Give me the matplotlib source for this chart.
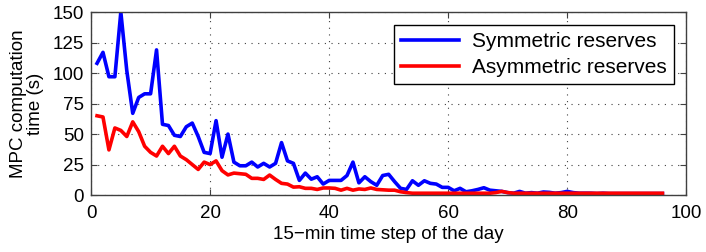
import matplotlib
matplotlib.use("Agg")
import matplotlib.pyplot as plt
import numpy as np

plt.rcParams['font.family'] = ['Liberation Sans', 'DejaVu Sans']

# 15-min time steps 1..96
steps = np.arange(1, 97)

# MPC computation time (s)
symmetric = [108, 117, 97, 97, 150, 102, 67, 80, 83, 83,
             119, 58, 57, 49, 48, 56, 59, 48, 35, 34,
             61, 31, 50, 27, 24, 24, 27, 23, 26, 23,
             26, 43, 28, 26, 12, 18, 13, 15, 9, 12,
             12, 12, 16, 27, 10, 15, 11, 8, 16, 17,
             11, 5.5, 4.6, 11.7, 8, 11.7, 9.6, 9, 6.3, 6.3,
             3.5, 5.5, 2.7, 3.5, 4.6, 6, 4, 3.5, 3, 2,
             1.5, 3, 1.5, 2, 1.5, 2.5, 2.2, 1.5, 2, 3,
             2, 1.5, 1.5, 1.5, 1.2, 1.5, 1.2, 1.2, 1.2, 1.2,
             1.2, 1.2, 1.2, 1.2, 1.2, 1.2]
asymmetric = [65, 64, 37, 55, 53, 48, 60, 52, 40, 35,
              32, 40, 34, 40, 32, 29, 25, 21, 27, 25,
              28, 20, 16.5, 18, 17.5, 17, 13.7, 13.7, 12.8, 16.4,
              12.8, 9.6, 9, 6.5, 6.8, 5.5, 5.5, 4.6, 5.8, 5.8,
              5.5, 4, 5.5, 4, 5, 4.6, 5.8, 4.6, 4.3, 4,
              4, 2.7, 2, 1.5, 1.5, 1.5, 1.5, 1.5, 1.5, 1.5,
              1.5, 1.5, 1.5, 1.5, 1.5, 1.5, 1.5, 2, 3, 2,
              1.5, 1.5, 1.5, 1.5, 1.5, 1.5, 1.5, 1.5, 1.5, 1.5,
              1.5, 1.5, 1.5, 1.5, 1.5, 1.5, 1.5, 1.5, 1.5, 1.5,
              1.5, 1.5, 1.5, 1.5, 1.5, 1.5]

fig = plt.figure(figsize=(7.06, 2.52), dpi=100)
ax = fig.add_axes([0.129, 0.226, 0.843, 0.726])

ax.plot(steps, symmetric, color='#0000ff', lw=2.6, label='Symmetric reserves')
ax.plot(steps, asymmetric, color='#ff0000', lw=2.6, label='Asymmetric reserves')

ax.set_xlim(0, 100)
ax.set_ylim(0, 150)
ax.set_xticks(np.arange(0, 101, 20))
ax.set_yticks(np.arange(0, 151, 25))
ax.grid(True, linestyle=(0, (1, 5)), color='#404040', lw=0.8)
ax.tick_params(direction='in', top=True, right=True, labelsize=13.5, length=4,
               color='#404040')
ax.tick_params(axis='x', pad=7)
ax.tick_params(axis='y', pad=5)
for s in ax.spines.values():
    s.set_color('#404040')
    s.set_linewidth(1.0)

ax.set_xlabel('15\u2212min time step of the day', fontsize=13.5, labelpad=3)
ax.set_ylabel('MPC computation\ntime (s)', fontsize=13.5, labelpad=6,
              linespacing=1.0)

leg = ax.legend(loc='upper right', fontsize=15, fancybox=False, framealpha=1,
                edgecolor='black', handlelength=2.8, borderaxespad=0.6,
                borderpad=0.35, labelspacing=0.35, handletextpad=0.6)
leg.get_frame().set_linewidth(1.0)

fig.savefig('out.png', dpi=100)
